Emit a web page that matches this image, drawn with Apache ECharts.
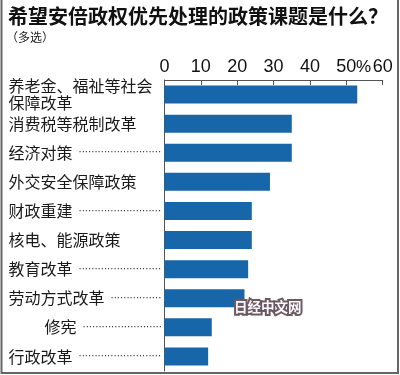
<!DOCTYPE html>
<html>
<head>
<meta charset="utf-8">
<script src="https://cdn.jsdelivr.net/npm/echarts@6/dist/echarts.min.js"></script>
<style>
html,body{margin:0;padding:0;background:#fff;}
#c{width:400px;height:375px;}
</style>
</head>
<body>
<div id="c"></div>
<script>
var categories = ['养老金、福祉等社会\n保障改革','消费税等税制改革','经济对策','外交安全保障政策','财政重建','核电、能源政策','教育改革','劳动方式改革','修宪','行政改革'];
var values = [53, 35, 35, 29, 24, 24, 23, 22, 13, 12];
var withLeader = ['经济对策','财政重建','教育改革','劳动方式改革','修宪','行政改革'];
var indented = ['修宪'];
var tickMax = 60, tickStep = 10;

var CJK = '"Noto Sans CJK SC", sans-serif';
var labelFont = '16px ' + CJK;
var dotFont = '10px "DejaVu Sans"';
var cv = document.createElement('canvas').getContext('2d');
function tw(font, s){ cv.font = font; return cv.measureText(s).width; }

var labelStart = 8.5, axisX = 164.5, indentPx = 36, gap = 6;

var chart = echarts.init(document.getElementById('c'), null, {renderer:'canvas'});
chart.setOption({
  animation: false,
  grid: {left: axisX, right: 17.3, top: 80, bottom: 4, containLabel: false},
  xAxis: {
    type: 'value', position: 'top', min: 0, max: tickMax, interval: tickStep,
    axisLine: {show: true, lineStyle: {color: '#555', width: 1}},
    axisTick: {show: true, inside: true, length: 5, lineStyle: {color: '#555'}},
    splitLine: {show: false},
    axisLabel: {fontSize: 18, color: '#111', margin: 4,
      fontFamily: '"Liberation Sans Narrow", "Liberation Sans", sans-serif'}
  },
  yAxis: {
    type: 'category', data: categories, inverse: true,
    axisLine: {show: true, lineStyle: {color: '#555'}},
    axisTick: {show: false},
    axisLabel: {
      align: 'left', margin: axisX - labelStart, interval: 0,
      formatter: function(v){
        var ind = indented.indexOf(v) >= 0;
        var key = ind ? 'i' : 't';
        var s = '{' + key + '|' + v.split('\n').join('}\n{' + key + '|') + '}';
        if (withLeader.indexOf(v) >= 0) {
          var w = tw(labelFont, v) + (ind ? indentPx : 0);
          var avail = (axisX - 1.5) - labelStart - w - gap;
          var n = Math.floor(avail / tw(dotFont, '·'));
          s += '{g|}{d|' + new Array(n + 1).join('·') + '}';
        }
        return s;
      },
      rich: {
        t: {fontSize: 16, fontFamily: CJK, color: '#1a1a1a', lineHeight: 17, verticalAlign: 'middle'},
        i: {fontSize: 16, fontFamily: CJK, color: '#1a1a1a', lineHeight: 17, padding: [0,0,0,indentPx], verticalAlign: 'middle'},
        g: {width: gap, height: 10},
        d: {fontSize: 10, fontFamily: 'DejaVu Sans', color: '#333', verticalAlign: 'middle', lineHeight: 17}
      }
    }
  },
  series: [{
    type: 'bar', data: values, barWidth: '62%',
    itemStyle: {color: '#1766a9'}
  }],
  graphic: [
    {type: 'text', left: 8, top: 6, style: {text: '希望安倍政权优先处理的政策课题是什么？', font: 'bold 20px ' + CJK, fill: '#111'}},
    {type: 'text', left: 6, top: 31, style: {text: '（多选）', font: '12px ' + CJK, fill: '#222'}},
    {type: 'text', left: 356, top: 59, style: {text: '%', font: '17px "Liberation Sans Narrow", "Liberation Sans", sans-serif', fill: '#111'}},
    {type: 'text', left: 232, top: 298, z: 100, style: {text: '日经中文网', font: 'bold 13.5px ' + CJK, fill: '#fbf7fb', stroke: '#6b5a60', lineWidth: 4}},
    {type: 'polyline', z: 100, shape: {points: [[1.5,0],[1.5,373],[398,373],[398,0]]}, style: {stroke: '#666', lineWidth: 2, fill: null}}
  ]
});
</script>
</body>
</html>
